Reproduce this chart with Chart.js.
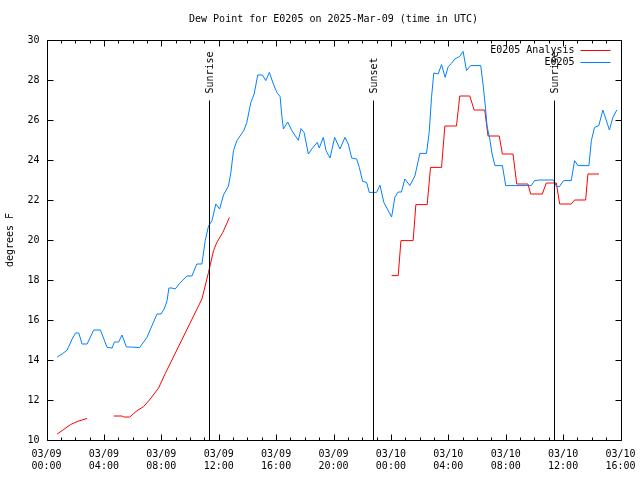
<!DOCTYPE html>
<html>
<head>
<meta charset="utf-8">
<script src="https://cdn.jsdelivr.net/npm/chart.js@4/dist/chart.umd.min.js"></script>
<style>
html,body{margin:0;padding:0;background:#fff;}
#wrap{width:640px;height:480px;position:relative;}
</style>
</head>
<body>
<div id="wrap"><canvas id="c" width="640" height="480"></canvas></div>
<script>
// ---- data (hours since 03/09 00:00 UTC) ----
const obsHours = [0.74,1.09,1.44,1.79,2.02,2.25,2.48,2.83,3.29,3.76,4.22,4.57,4.73,5.03,5.26,5.57,5.84,6.49,7.0,7.7,7.98,8.2,8.4,8.53,8.74,8.97,9.27,9.79,10.13,10.48,10.83,11.06,11.29,11.53,11.8,12.06,12.34,12.68,12.85,13.03,13.27,13.77,13.96,14.24,14.47,14.72,15.05,15.28,15.53,15.81,16.05,16.28,16.4,16.51,16.81,17.09,17.55,17.74,17.95,18.25,18.48,18.87,19.01,19.29,19.48,19.76,20.08,20.45,20.8,21.03,21.27,21.61,21.8,22.03,22.31,22.49,23.0,23.24,23.51,24.05,24.28,24.51,24.74,24.97,25.32,25.67,26.02,26.48,26.67,26.83,26.99,27.29,27.53,27.78,27.99,28.22,28.45,28.8,29.03,29.27,29.55,30.26,30.42,30.58,30.7,30.89,31.05,31.25,31.77,32.0,32.63,33.79,34.0,34.37,35.34,35.53,35.76,36.03,36.57,36.8,37.03,37.8,37.97,38.19,38.49,38.77,39.23,39.47,39.74];
const obsValues = [14.15,14.3,14.5,15.05,15.35,15.35,14.8,14.8,15.5,15.5,14.63,14.6,14.9,14.9,15.25,14.65,14.65,14.62,15.13,16.3,16.3,16.55,16.96,17.6,17.6,17.55,17.83,18.2,18.2,18.8,18.8,19.97,20.7,20.97,21.8,21.55,22.26,22.7,23.38,24.47,24.97,25.5,25.88,26.88,27.3,28.25,28.25,27.97,28.38,27.8,27.38,27.17,26.2,25.55,25.9,25.48,24.98,25.57,25.37,24.3,24.55,24.88,24.6,25.13,24.47,24.1,25.13,24.55,25.13,24.8,24.1,24.05,23.63,22.93,22.88,22.38,22.38,22.74,21.88,21.15,22.15,22.4,22.4,23.05,22.72,23.2,24.33,24.33,25.38,27.13,28.35,28.3,28.77,28.13,28.67,28.83,29.05,29.18,29.43,28.47,28.72,28.72,27.8,26.7,25.7,25.05,24.3,23.72,23.72,22.72,22.72,22.72,22.97,23.0,23.0,22.68,22.68,22.97,22.97,23.97,23.72,23.72,24.97,25.63,25.72,26.5,25.5,26.13,26.5];

const anaHours = [0.74,1.09,1.67,2.13,2.83,3.5,4.68,5.26,5.38,5.8,6.31,6.77,7.23,7.81,8.28,10.83,11.29,11.64,11.87,12.29,12.75,18.0,24.05,24.51,24.7,25.55,25.74,26.53,26.76,27.53,27.76,28.57,28.8,29.5,29.8,30.54,30.77,31.55,31.77,32.51,32.77,33.55,33.74,34.55,34.83,35.53,35.76,36.57,36.8,37.57,37.73,38.5];
const anaValues = [10.3,10.47,10.77,10.92,11.08,null,11.2,11.2,11.15,11.15,11.47,11.67,12.05,12.6,13.33,17.05,18.38,19.47,19.88,20.38,21.13,null,18.22,18.22,19.97,19.97,21.77,21.77,23.63,23.63,25.7,25.7,27.2,27.2,26.5,26.5,25.2,25.2,24.3,24.3,22.8,22.8,22.3,22.3,22.85,22.85,21.8,21.8,22.0,22.0,23.3,23.3];

const tickDates = ['03/09','03/09','03/09','03/09','03/09','03/09','03/10','03/10','03/10','03/10','03/10'];
const tickTimes = ['00:00','04:00','08:00','12:00','16:00','20:00','00:00','04:00','08:00','12:00','16:00'];

const eventHours = [11.35, 22.77, 35.35];
const eventNames = ['Sunrise','Sunset','Sunrise'];

const seriesNames = ['E0205 Analysis','E0205'];
const seriesColors = ['#ff0000','#0080ff'];

// ---- chart ----
Chart.defaults.font.family = "'DejaVu Sans Mono', 'Liberation Mono', monospace";
Chart.defaults.font.size = 10;
Chart.defaults.color = '#000';

const toXY = (xs, ys) => xs.map((x, i) => ({x: x, y: ys[i]}));

const gnuFrame = {
  id: 'gnuFrame',
  afterDraw(chart) {
    const ctx = chart.ctx;
    const a = chart.chartArea;
    const xs = chart.scales.x, ys = chart.scales.y;
    ctx.save();
    ctx.strokeStyle = '#000';
    ctx.lineWidth = 1;
    const L = Math.round(a.left) + 0.5, R = Math.round(a.right) + 0.5;
    const T = Math.round(a.top) + 0.5, B = Math.round(a.bottom) + 0.5;
    ctx.beginPath();
    ctx.rect(L, T, R - L, B - T);
    ctx.stroke();
    // x ticks (hourly), inward on bottom and top
    ctx.beginPath();
    for (let h = 0; h <= 40; h++) {
      const px = Math.round(xs.getPixelForValue(h)) + 0.5;
      const len = (h % 4 === 0) ? 6 : 3;
      ctx.moveTo(px, B); ctx.lineTo(px, B - len);
      ctx.moveTo(px, T); ctx.lineTo(px, T + len);
    }
    // y ticks, inward on left and right
    for (let v = 10; v <= 30; v += 2) {
      const py = Math.round(ys.getPixelForValue(v)) + 0.5;
      ctx.moveTo(L, py); ctx.lineTo(L + 6, py);
      ctx.moveTo(R, py); ctx.lineTo(R - 6, py);
    }
    ctx.stroke();
    // sunrise / sunset markers
    ctx.font = Chart.defaults.font.size + 'px ' + Chart.defaults.font.family;
    ctx.fillStyle = '#000';
    eventHours.forEach((h, i) => {
      const px = Math.round(xs.getPixelForValue(h)) + 0.5;
      ctx.beginPath();
      ctx.moveTo(px, T + 60); ctx.lineTo(px, B);
      ctx.stroke();
      ctx.save();
      ctx.translate(px + 1, T + 53);
      ctx.rotate(-Math.PI / 2);
      ctx.textAlign = 'left';
      ctx.textBaseline = 'middle';
      ctx.fillText(eventNames[i], 0, 0);
      ctx.restore();
    });
    // legend (gnuplot style: text right-aligned, sample line to its right)
    chart.data.datasets.forEach((ds, i) => {
      const y = Math.round(a.top + 10 + i * 12) + 0.5;
      ctx.textAlign = 'right';
      ctx.textBaseline = 'middle';
      ctx.fillStyle = '#000';
      ctx.fillText(ds.label, a.right - 46, y);
      ctx.strokeStyle = ds.borderColor;
      ctx.beginPath();
      ctx.moveTo(a.right - 40, y); ctx.lineTo(a.right - 10, y);
      ctx.stroke();
    });
    ctx.restore();
  }
};

new Chart(document.getElementById('c'), {
  type: 'line',
  data: {
    datasets: [
      {label: seriesNames[0], data: toXY(anaHours, anaValues), borderColor: seriesColors[0], backgroundColor: seriesColors[0], borderWidth: 1, pointRadius: 0, tension: 0, spanGaps: false, order: 1},
      {label: seriesNames[1], data: toXY(obsHours, obsValues), borderColor: seriesColors[1], backgroundColor: seriesColors[1], borderWidth: 1, pointRadius: 0, tension: 0, spanGaps: false, order: 0}
    ]
  },
  options: {
    responsive: false,
    animation: false,
    events: [],
    layout: {padding: {left: 0, right: 19.5, top: 0, bottom: 0}},
    plugins: {
      legend: {display: false},
      tooltip: {enabled: false},
      title: {display: true, text: 'Dew Point for E0205 on 2025-Mar-09 (time in UTC)', fullSize: false, font: {size: 10, weight: 'normal'}, padding: {top: 13, bottom: 15}, color: '#000'}
    },
    scales: {
      x: {
        type: 'linear', min: 0, max: 40,
        grid: {display: false, drawTicks: false},
        border: {display: false},
        ticks: {stepSize: 4, autoSkip: false, maxRotation: 0, minRotation: 0, padding: 8,
          callback: (v) => { const i = Math.round(v / 4); return [tickDates[i], tickTimes[i]]; }},
        afterFit: (s) => { s.height = 40; s.paddingLeft = 0; s.paddingRight = 0; }
      },
      y: {
        min: 10, max: 30,
        grid: {display: false, drawTicks: false},
        border: {display: false},
        ticks: {stepSize: 2, padding: 7},
        title: {display: true, text: 'degrees F', padding: {top: 4, bottom: 4}, font: {size: 10}},
        afterFit: (s) => { s.width = 46.5; s.paddingTop = 0; s.paddingBottom = 0; }
      }
    }
  },
  plugins: [gnuFrame]
});
</script>
</body>
</html>
